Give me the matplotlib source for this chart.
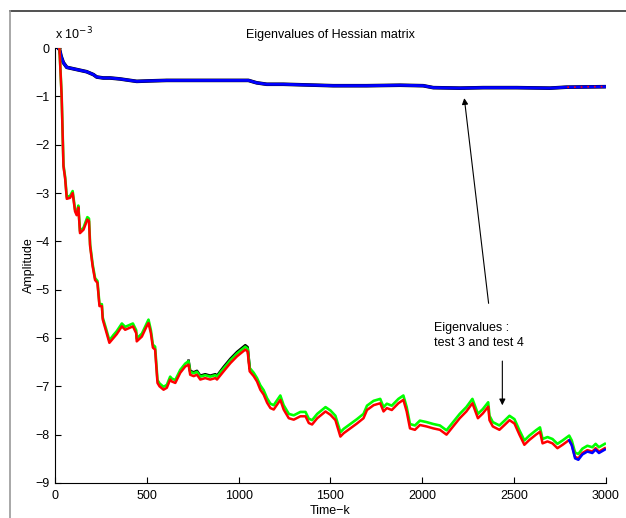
import matplotlib
matplotlib.use("Agg")
import matplotlib.pyplot as plt
from matplotlib.lines import Line2D

plt.rcParams["font.family"] = ["Liberation Sans", "DejaVu Sans"]
plt.rcParams["font.size"] = 9

# lower eigenvalues (x 1e-3), shared time axis for test 3 (green) and test 4 (red)
t_low = [24, 30, 36, 42, 46, 55, 64, 82, 96, 109, 118, 127, 136, 155, 176, 185, 191,
         205, 218, 231, 242, 255, 260, 278, 296, 318, 336, 364, 382, 400, 424, 442, 445,
         473, 500, 509, 522, 533, 545, 558, 569, 591, 609, 627, 636, 655, 682, 709, 727,
         736, 755, 773, 791, 818, 845, 873, 882, 918, 955, 991, 1036, 1049, 1060, 1082,
         1100, 1118, 1136, 1155, 1173, 1191, 1209, 1227, 1245, 1273, 1300, 1336, 1364,
         1382, 1400, 1428, 1473, 1500, 1527, 1554, 1572, 1608, 1644, 1680, 1699, 1735,
         1771, 1789, 1807, 1834, 1870, 1897, 1915, 1933, 1960, 1987, 2023, 2060, 2096,
         2132, 2168, 2204, 2240, 2273, 2303, 2330, 2359, 2366, 2384, 2420, 2448, 2475,
         2502, 2529, 2556, 2583, 2619, 2641, 2655, 2682, 2709, 2736, 2764, 2800, 2814,
         2832, 2850, 2872, 2899, 2926, 2944, 2962, 2994]
red_low = [0.0, -0.5, -1.0, -1.9, -2.45, -2.7, -3.12, -3.1, -3.0, -3.38, -3.46, -3.3,
           -3.83, -3.76, -3.55, -3.58, -4.1, -4.52, -4.8, -4.86, -5.34, -5.34, -5.62,
           -5.86, -6.1, -6.0, -5.92, -5.76, -5.83, -5.8, -5.76, -5.9, -6.07, -5.97, -5.75,
           -5.69, -5.9, -6.2, -6.24, -6.93, -7.0, -7.07, -7.03, -6.86, -6.9, -6.93, -6.72,
           -6.59, -6.55, -6.76, -6.79, -6.76, -6.86, -6.83, -6.86, -6.83, -6.86, -6.69,
           -6.52, -6.38, -6.24, -6.28, -6.69, -6.79, -6.9, -7.07, -7.17, -7.34, -7.45,
           -7.48, -7.38, -7.28, -7.48, -7.66, -7.69, -7.62, -7.62, -7.76, -7.79, -7.66,
           -7.52, -7.59, -7.7, -8.04, -7.97, -7.87, -7.77, -7.66, -7.49, -7.39, -7.35,
           -7.52, -7.45, -7.49, -7.35, -7.28, -7.52, -7.87, -7.9, -7.8, -7.83, -7.87, -7.9,
           -8.0, -7.83, -7.66, -7.52, -7.35, -7.66, -7.56, -7.42, -7.7, -7.83, -7.9, -7.8,
           -7.7, -7.77, -8.0, -8.21, -8.11, -8.0, -7.94, -8.18, -8.14, -8.18, -8.28, -8.21,
           -8.11, -8.21, -8.46, -8.49, -8.38, -8.32, -8.35, -8.28, -8.35, -8.28]
green_low = [0.0, -0.48, -0.97, -1.87, -2.42, -2.67, -3.08, -3.06, -2.96, -3.34, -3.42,
             -3.26, -3.79, -3.72, -3.5, -3.53, -4.06, -4.48, -4.76, -4.82, -5.3, -5.3,
             -5.58, -5.81, -6.05, -5.94, -5.86, -5.7, -5.77, -5.74, -5.7, -5.84, -6.01,
             -5.91, -5.69, -5.62, -5.84, -6.14, -6.18, -6.87, -6.94, -7.01, -6.97, -6.8,
             -6.84, -6.87, -6.66, -6.53, -6.48, -6.7, -6.73, -6.7, -6.8, -6.77, -6.8,
             -6.77, -6.8, -6.63, -6.46, -6.32, -6.18, -6.22, -6.62, -6.72, -6.83, -6.98,
             -7.08, -7.25, -7.36, -7.39, -7.29, -7.19, -7.39, -7.57, -7.6, -7.53, -7.53,
             -7.67, -7.7, -7.57, -7.43, -7.5, -7.61, -7.95, -7.88, -7.78, -7.68, -7.57,
             -7.4, -7.3, -7.26, -7.43, -7.36, -7.4, -7.26, -7.19, -7.43, -7.78, -7.81,
             -7.71, -7.74, -7.78, -7.81, -7.91, -7.74, -7.57, -7.43, -7.26, -7.57, -7.47,
             -7.33, -7.61, -7.74, -7.81, -7.71, -7.61, -7.68, -7.91, -8.12, -8.02, -7.91,
             -7.85, -8.09, -8.05, -8.09, -8.19, -8.12, -8.02, -8.12, -8.37, -8.4, -8.29,
             -8.23, -8.26, -8.19, -8.26, -8.19]

# parts of test 1 (black) and test 2 (blue) lower eigenvalue that show through
t_black_low = [727, 736, 755, 773, 791, 818, 845, 873, 882, 918, 955, 991, 1036, 1049, 1060]
black_low = [-6.47, -6.68, -6.71, -6.68, -6.78, -6.75, -6.78, -6.75, -6.78, -6.6, -6.43,
             -6.29, -6.15, -6.19, -6.62]
t_blue_low = [2800, 2814, 2832, 2850, 2872, 2899, 2926, 2944, 2962, 2994]
blue_low = [-8.12, -8.22, -8.49, -8.52, -8.41, -8.35, -8.38, -8.31, -8.38, -8.31]

# upper eigenvalue (x 1e-3)
t_up = [15, 24, 33, 45, 64, 100, 136, 172, 209, 227, 263, 300, 354, 390, 445, 517, 608,
        699, 790, 880, 971, 1053, 1098, 1153, 1243, 1334, 1425, 1515, 1697, 1879, 2005,
        2060, 2205, 2332, 2514, 2695, 2786, 3000]
blue_up = [0.0, -0.02, -0.17, -0.3, -0.4, -0.43, -0.46, -0.49, -0.55, -0.6, -0.62, -0.62,
           -0.64, -0.66, -0.69, -0.68, -0.67, -0.67, -0.67, -0.67, -0.67, -0.67, -0.72,
           -0.75, -0.75, -0.76, -0.77, -0.78, -0.78, -0.77, -0.78, -0.82, -0.83, -0.82,
           -0.82, -0.83, -0.81, -0.80]
t_red_up = [2790, 2850, 2900, 2950, 3000]
red_up = [-0.81, -0.81, -0.80, -0.80, -0.80]

fig = plt.figure(figsize=(6.26, 5.18), dpi=100)
ax = fig.add_axes([0.0879, 0.0676, 0.8800, 0.8397])

ax.plot(t_up, blue_up, color="black", lw=2.6, solid_capstyle="butt")
ax.plot(t_up, blue_up, color="blue", lw=2.1, solid_capstyle="butt")
ax.plot(t_red_up, red_up, color="red", lw=1.2, ls=(0, (1, 3)))

ax.plot(t_black_low, black_low, color="black", lw=1.9)
ax.plot(t_low, green_low, color="#00ff00", lw=1.9)
ax.plot(t_low, red_low, color="red", lw=1.8)
ax.plot(t_blue_low, blue_low, color="blue", lw=1.8)

ax.set_xlim(0, 3000)
ax.set_ylim(-9, 0)
ax.set_xticks([0, 500, 1000, 1500, 2000, 2500, 3000])
ax.set_yticks(range(-9, 1))
ax.spines["top"].set_visible(False)
ax.spines["right"].set_visible(False)
ax.tick_params(direction="in", length=4, width=0.8, labelsize=9)
ax.tick_params(axis="x", pad=5)
ax.tick_params(axis="y", pad=4)
ax.set_title("Eigenvalues of Hessian matrix", fontsize=9, pad=7)
ax.set_xlabel("Time\u2212k", fontsize=9, labelpad=2)
ax.set_ylabel("Amplitude", fontsize=9, labelpad=0)
ax.text(0.0, 1.012, "x 10$^{-3}$", transform=ax.transAxes, fontsize=9, va="bottom")

ax.annotate("", xy=(2227, -0.98), xytext=(2363, -5.34),
            arrowprops=dict(arrowstyle="-|>", color="black", lw=0.8, mutation_scale=9))
ax.annotate("", xy=(2436, -7.45), xytext=(2436, -6.42),
            arrowprops=dict(arrowstyle="-|>", color="black", lw=0.8, mutation_scale=9))
ax.text(2064, -5.66, "Eigenvalues :\ntest 3 and test 4", fontsize=9, va="top",
        linespacing=1.35)

# frame of the cropped figure window
fig.add_artist(Line2D([10 / 626, 1.0], [1 - 11 / 518] * 2, color="#333333", lw=1.2))
fig.add_artist(Line2D([10 / 626] * 2, [0.0, 1 - 11 / 518], color="#999999", lw=1.2))

fig.savefig("out.png", dpi=100)
